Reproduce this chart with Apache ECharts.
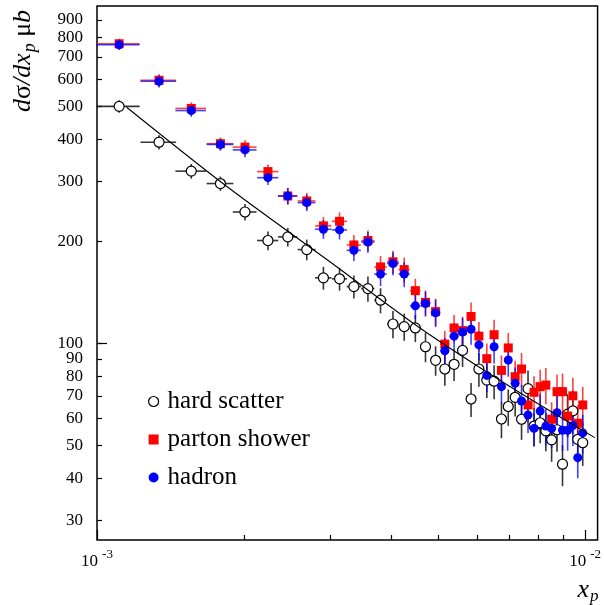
<!DOCTYPE html>
<html>
<head>
<meta charset="utf-8">
<script src="https://cdn.jsdelivr.net/npm/echarts@6/dist/echarts.min.js"></script>
<style>
  html, body { margin: 0; padding: 0; background: #fff; }
  #main { width: 604px; height: 605px; }
</style>
</head>
<body>
<div id="main"></div>
<script>
// bin centres in x_p (linear bins)
const xp = [1.11e-3, 1.34e-3, 1.56e-3, 1.79e-3, 2.01e-3, 2.24e-3, 2.46e-3, 2.69e-3, 2.91e-3, 3.14e-3,
  3.36e-3, 3.59e-3, 3.81e-3, 4.04e-3, 4.26e-3, 4.49e-3, 4.71e-3, 4.94e-3, 5.16e-3, 5.39e-3,
  5.61e-3, 5.84e-3, 6.06e-3, 6.29e-3, 6.51e-3, 6.74e-3, 6.96e-3, 7.19e-3, 7.41e-3, 7.64e-3,
  7.86e-3, 8.09e-3, 8.31e-3, 8.54e-3, 8.76e-3, 8.99e-3, 9.21e-3, 9.44e-3, 9.66e-3, 9.89e-3];
const xHalfWidth = 0.1125e-3;

const hardScatter = [500, 392, 322, 296, 244, 201, 206, 189, 156, 155, 147, 145, 134, 114, 112, 111, 97.7, 89.1, 84.0, 86.7,
  95.3, 68.5, 84.0, 77.9, 77.3, 59.8, 65.1, 69.3, 59.7, 73.5, 57.0, 58.3, 55.2, 51.9, 55.6, 44.0, 61.8, 63.2, 52.1, 50.9];
const hardScatterErr = [21, 19, 16, 14.4, 13.6, 12.7, 13, 13.3, 12.1, 12, 11.4, 12.3, 11.4, 10.5, 10.3, 10.2, 9.8, 8.9, 9.0, 9.3,
  10.2, 7.9, 9.6, 8.9, 8.9, 7.3, 8.0, 8.5, 7.8, 9.6, 7.4, 7.6, 7.2, 7.2, 7.7, 6.1, 9.0, 9.2, 7.6, 7.4];

const partonShower = [765, 597, 493, 388, 379, 321, 272, 263, 222, 229, 195, 201, 168, 174, 165, 143, 132, 124, 99.5, 111,
  109, 120, 105, 90.1, 106, 83.2, 96.9, 79.7, 84.0, 65.8, 71.7, 74.5, 75.3, 59.7, 72.0, 72.0, 61.0, 70.0, 58.1, 65.8];
const partonShowerErr = [26.5, 24.8, 20.5, 16.1, 18.5, 15.6, 15.2, 14.7, 14.0, 14.4, 13.7, 14.1, 13.0, 13.5, 14.0, 12.1, 11.2, 11.4, 9.2, 10.2,
  10.9, 12.0, 10.5, 9.7, 11.4, 8.9, 10.4, 9.1, 9.6, 7.6, 8.2, 9.1, 9.2, 7.3, 8.8, 9.4, 7.9, 9.1, 7.6, 8.6];

const hadron = [760, 593, 486, 386, 372, 308, 272, 260, 217, 216, 188, 199, 160, 172, 160, 129, 131, 123, 95.1, 105,
  108, 110, 98.9, 80.4, 97.7, 74.5, 89.3, 76.2, 67.6, 61.4, 56.1, 63.1, 57.0, 56.1, 62.4, 55.4, 55.4, 57.2, 46.0, 54.4];
const hadronErr = [26.3, 24.7, 20.2, 16.1, 18.1, 15.0, 15.2, 14.5, 13.7, 13.6, 13.2, 14.0, 12.4, 13.3, 13.6, 11.0, 11.1, 11.4, 8.8, 9.7,
  10.8, 11.0, 9.9, 8.6, 10.5, 8.0, 9.6, 8.7, 7.8, 7.0, 6.4, 7.7, 7.0, 6.9, 7.6, 7.2, 7.2, 7.4, 6.0, 7.1];

// fitted curve through the hard scatter points
const fitX = [1.15e-3, 1.84e-3, 3.0e-3, 4.58e-3, 6.83e-3, 1.047e-2];
const fitY = [497, 291, 174, 111.2, 76.4, 52.7];

// tick values
const yTicks = [30, 40, 50, 60, 70, 80, 90, 100, 200, 300, 400, 500, 600, 700, 800, 900];
const yMajor = [100];
const xMinor = [2e-3, 3e-3, 4e-3, 5e-3, 6e-3, 7e-3, 8e-3, 9e-3];
const xMajor = [1e-3, 1e-2];

const lg = Math.log10;
const serif = 'Liberation Serif';

function errData(ys, errs) {
  return ys.map((y, i) => [lg(xp[i]), lg(xp[i] - xHalfWidth), lg(xp[i] + xHalfWidth), lg(y - errs[i]), lg(y + errs[i]), lg(y)]);
}

function errRenderer(color) {
  return function (params, api) {
    const c = api.coord([api.value(0), api.value(5)]);
    const xl = api.coord([api.value(1), api.value(5)]);
    const xh = api.coord([api.value(2), api.value(5)]);
    const yl = api.coord([api.value(0), api.value(3)]);
    const yh = api.coord([api.value(0), api.value(4)]);
    const style = { stroke: color, lineWidth: 1.6 };
    return {
      type: 'group',
      children: [
        { type: 'line', shape: { x1: xl[0], y1: c[1], x2: xh[0], y2: c[1] }, style: style },
        { type: 'line', shape: { x1: c[0], y1: yl[1], x2: c[0], y2: yh[1] }, style: style }
      ]
    };
  };
}

const chart = echarts.init(document.getElementById('main'), null, { renderer: 'canvas' });

const option = {
  animation: false,
  backgroundColor: '#fff',
  grid: {
    left: 97, right: 5.5, top: 6, bottom: 65,
    show: true, borderColor: '#000', borderWidth: 1.5, backgroundColor: 'transparent'
  },
  xAxis: [
    {
      type: 'value', min: -3, max: -1.9744, position: 'bottom',
      axisLine: { show: false }, splitLine: { show: false },
      axisTick: { show: true, inside: true, length: 5, customValues: xMinor.map(lg), lineStyle: { color: '#000', width: 1.2 } },
      axisLabel: { show: false }
    },
    {
      type: 'value', min: -3, max: -1.9744, position: 'bottom',
      axisLine: { show: false }, splitLine: { show: false },
      axisTick: { show: true, inside: true, length: 10, customValues: xMajor.map(lg), lineStyle: { color: '#000', width: 1.2 } },
      axisLabel: {
        show: true, margin: 8, customValues: xMajor.map(lg),
        formatter: v => '{b|10}{s|' + Math.round(v) + '}',
        rich: {
          b: { fontFamily: serif, fontSize: 17, color: '#000' },
          s: { fontFamily: serif, fontSize: 13, color: '#000', padding: [0, 0, 15, 4] }
        }
      }
    }
  ],
  yAxis: [
    {
      type: 'value', min: 1.4198, max: 2.995, position: 'left',
      axisLine: { show: false }, splitLine: { show: false },
      axisTick: { show: true, inside: true, length: 5, customValues: yTicks.map(lg), lineStyle: { color: '#000', width: 1.2 } },
      axisLabel: {
        show: true, margin: 14, customValues: yTicks.map(lg),
        formatter: v => String(Math.round(Math.pow(10, v))),
        fontFamily: serif, fontSize: 17, color: '#000'
      }
    },
    {
      type: 'value', min: 1.4198, max: 2.995, position: 'left',
      axisLine: { show: false }, splitLine: { show: false },
      axisTick: { show: true, inside: true, length: 10, customValues: yMajor.map(lg), lineStyle: { color: '#000', width: 1.2 } },
      axisLabel: { show: false }
    }
  ],
  legend: {
    orient: 'vertical', left: 143, top: 384,
    itemWidth: 10, itemHeight: 10, itemGap: 13,
    textStyle: { fontFamily: serif, fontSize: 25, color: '#000', lineHeight: 25, padding: [0, 0, 0, 4] },
    data: [
      { name: 'hard scatter', icon: 'circle', itemStyle: { color: '#fff', borderColor: '#000', borderWidth: 1.2 } },
      { name: 'parton shower', icon: 'rect', itemStyle: { color: '#ff0000' } },
      { name: 'hadron', icon: 'circle', itemStyle: { color: '#0000ff' } }
    ]
  },
  graphic: [
    {
      type: 'text', x: 23, y: 61, rotation: Math.PI / 2,
      style: {
        text: '{i|d}{n|σ}{i|/dx}{s|p}{n| μ}{i|b}',
        align: 'center', verticalAlign: 'middle',
        rich: {
          i: { fontFamily: serif, fontStyle: 'italic', fontSize: 26, fill: '#000' },
          n: { fontFamily: serif, fontSize: 26, fill: '#000' },
          s: { fontFamily: serif, fontStyle: 'italic', fontSize: 18, fill: '#000', padding: [14, 0, 0, 1] }
        }
      }
    },
    {
      type: 'text', x: 588, y: 590,
      style: {
        text: '{i|x}{s|p}',
        align: 'center', verticalAlign: 'middle',
        rich: {
          i: { fontFamily: serif, fontStyle: 'italic', fontSize: 26, fill: '#000' },
          s: { fontFamily: serif, fontStyle: 'italic', fontSize: 17, fill: '#000', padding: [14, 0, 0, 1] }
        }
      }
    }
  ],
  series: [
    {
      name: 'hard scatter errors', type: 'custom', xAxisIndex: 0, yAxisIndex: 0,
      renderItem: errRenderer('rgba(20,20,20,0.85)'),
      encode: { x: 0, y: 5 },
      data: errData(hardScatter, hardScatterErr)
    },
    {
      name: 'hard scatter', type: 'scatter', xAxisIndex: 0, yAxisIndex: 0,
      symbol: 'circle', symbolSize: 10,
      itemStyle: { color: '#fff', borderColor: '#000', borderWidth: 1.2, opacity: 1 },
      data: hardScatter.map((y, i) => [lg(xp[i]), lg(y)])
    },
    {
      name: 'fit', type: 'line', xAxisIndex: 0, yAxisIndex: 0,
      symbol: 'none', smooth: 0.3,
      lineStyle: { color: '#000', width: 1.1 },
      data: fitX.map((x, i) => [lg(x), lg(fitY[i])])
    },
    {
      name: 'parton shower errors', type: 'custom', xAxisIndex: 0, yAxisIndex: 0,
      renderItem: errRenderer('rgba(255,0,0,0.75)'),
      encode: { x: 0, y: 5 },
      data: errData(partonShower, partonShowerErr)
    },
    {
      name: 'parton shower', type: 'scatter', xAxisIndex: 0, yAxisIndex: 0,
      symbol: 'rect', symbolSize: 9,
      itemStyle: { color: '#ff0000', opacity: 1 },
      data: partonShower.map((y, i) => [lg(xp[i]), lg(y)])
    },
    {
      name: 'hadron errors', type: 'custom', xAxisIndex: 0, yAxisIndex: 0,
      renderItem: errRenderer('rgba(0,0,255,0.75)'),
      encode: { x: 0, y: 5 },
      data: errData(hadron, hadronErr)
    },
    {
      name: 'hadron', type: 'scatter', xAxisIndex: 0, yAxisIndex: 0,
      symbol: 'circle', symbolSize: 9,
      itemStyle: { color: '#0000ff', opacity: 1 },
      data: hadron.map((y, i) => [lg(xp[i]), lg(y)])
    }
  ]
};

chart.setOption(option);
</script>
</body>
</html>
